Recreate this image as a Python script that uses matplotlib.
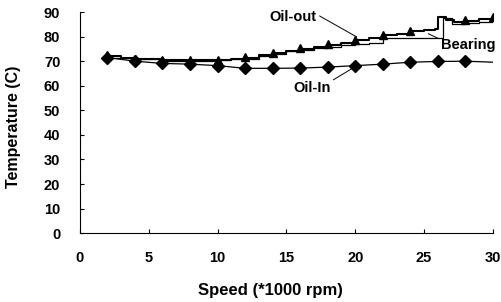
import matplotlib.pyplot as plt

# speed in 1000 rpm, temperature in C
speed_pts = [2, 4, 6, 8, 10, 12, 14, 16, 18, 20, 22, 24, 26, 28, 30]
oil_in = [71.5, 70.0, 69.1, 68.8, 68.2, 67.1, 67.1, 67.2, 67.6, 68.2, 68.8, 69.6, 69.9, 70.0, 69.6]

# triangle markers on the oil-out trace (none visible at 26)
oil_out_mark_x = [2, 4, 6, 8, 10, 12, 14, 16, 18, 20, 22, 24, 28, 30]
oil_out_mark = [72.5, 71.1, 70.4, 70.4, 70.6, 71.8, 73.4, 75.2, 77.2, 78.6, 80.6, 82.4, 86.7, 88.0]

oil_out_x = [2, 3, 4, 5, 6, 8, 10, 11, 12, 13, 14, 15, 16, 17, 18, 19, 20, 21, 22,
             23, 24, 25, 25.8, 26, 26.6, 27.2, 28, 29, 30]
oil_out = [72.0, 71.5, 71.0, 70.8, 70.6, 70.5, 70.6, 71.0, 71.4, 72.5, 73.4, 74.2,
           75.0, 75.8, 76.8, 77.6, 78.6, 79.4, 80.6, 81.2, 82.3, 82.8, 83.2, 88.0,
           86.7, 85.8, 86.5, 87.0, 88.0]

bearing_x = [2, 4, 6, 8, 10, 11, 12, 13, 14, 15, 16, 17, 18, 19, 20, 21, 22, 23,
             24, 25, 26, 26.4, 27, 28, 29, 30]
bearing = [71.5, 70.8, 70.2, 70.0, 70.3, 70.8, 71.0, 72.0, 72.8, 74.0, 74.5, 75.5,
           75.6, 76.5, 77.0, 77.3, 79.6, 79.6, 79.4, 79.3, 79.3, 87.5, 85.2, 85.5,
           86.0, 85.8]

plt.rcParams["font.family"] = ["Liberation Sans", "DejaVu Sans"]

fig = plt.figure(figsize=(5.02, 3.02), dpi=100)
ax = fig.add_axes([0.159, 0.228, 0.823, 0.732])

ax.plot(bearing_x, bearing, color="black", lw=0.9, drawstyle="steps-post")
ax.plot(oil_out_x, oil_out, color="black", lw=1.5, drawstyle="steps-post")
ax.plot(oil_out_mark_x, oil_out_mark, color="black", ls="none", marker="^", ms=6)
ax.plot(speed_pts, oil_in, color="black", lw=0.9,
        marker="D", ms=6.5, markevery=list(range(14)))

ax.set_xlim(0, 30)
ax.set_ylim(0, 90)
ax.set_xticks(range(0, 31, 5))
ax.set_yticks(range(0, 91, 10))
for s in ("top", "right"):
    ax.spines[s].set_visible(False)
ax.tick_params(direction="in", length=3, width=0.8, labelsize=10.5)
ax.tick_params(axis="x", pad=13)
ax.tick_params(axis="y", pad=14)
for lab in ax.get_xticklabels() + ax.get_yticklabels():
    lab.set_fontweight("bold")

ax.set_xlabel("Speed (*1000 rpm)", fontsize=12, fontweight="bold")
ax.set_ylabel("Temperature (C)", fontsize=11.5, fontweight="bold")
ax.xaxis.set_label_coords(0.462, -0.226)
ax.yaxis.set_label_coords(-0.143, 0.48)


def arrow(rel):
    return dict(arrowstyle="-", color="black", lw=0.7, relpos=rel, shrinkA=0, shrinkB=0)


ax.annotate("Oil-out", xy=(20.1, 79.9), xytext=(15.5, 87.9), fontsize=10.5,
            fontweight="bold", ha="center", va="center", arrowprops=arrow((0.95, 0.8)))
ax.annotate("Bearing", xy=(25.3, 81.2), xytext=(28.2, 76.5), fontsize=10.5,
            fontweight="bold", ha="center", va="center", arrowprops=arrow((0.0, 0.9)))
ax.annotate("Oil-In", xy=(20.0, 67.8), xytext=(16.85, 59.0), fontsize=10.5,
            fontweight="bold", ha="center", va="center", arrowprops=arrow((0.95, 0.9)))

fig.savefig("out.png", dpi=100)
